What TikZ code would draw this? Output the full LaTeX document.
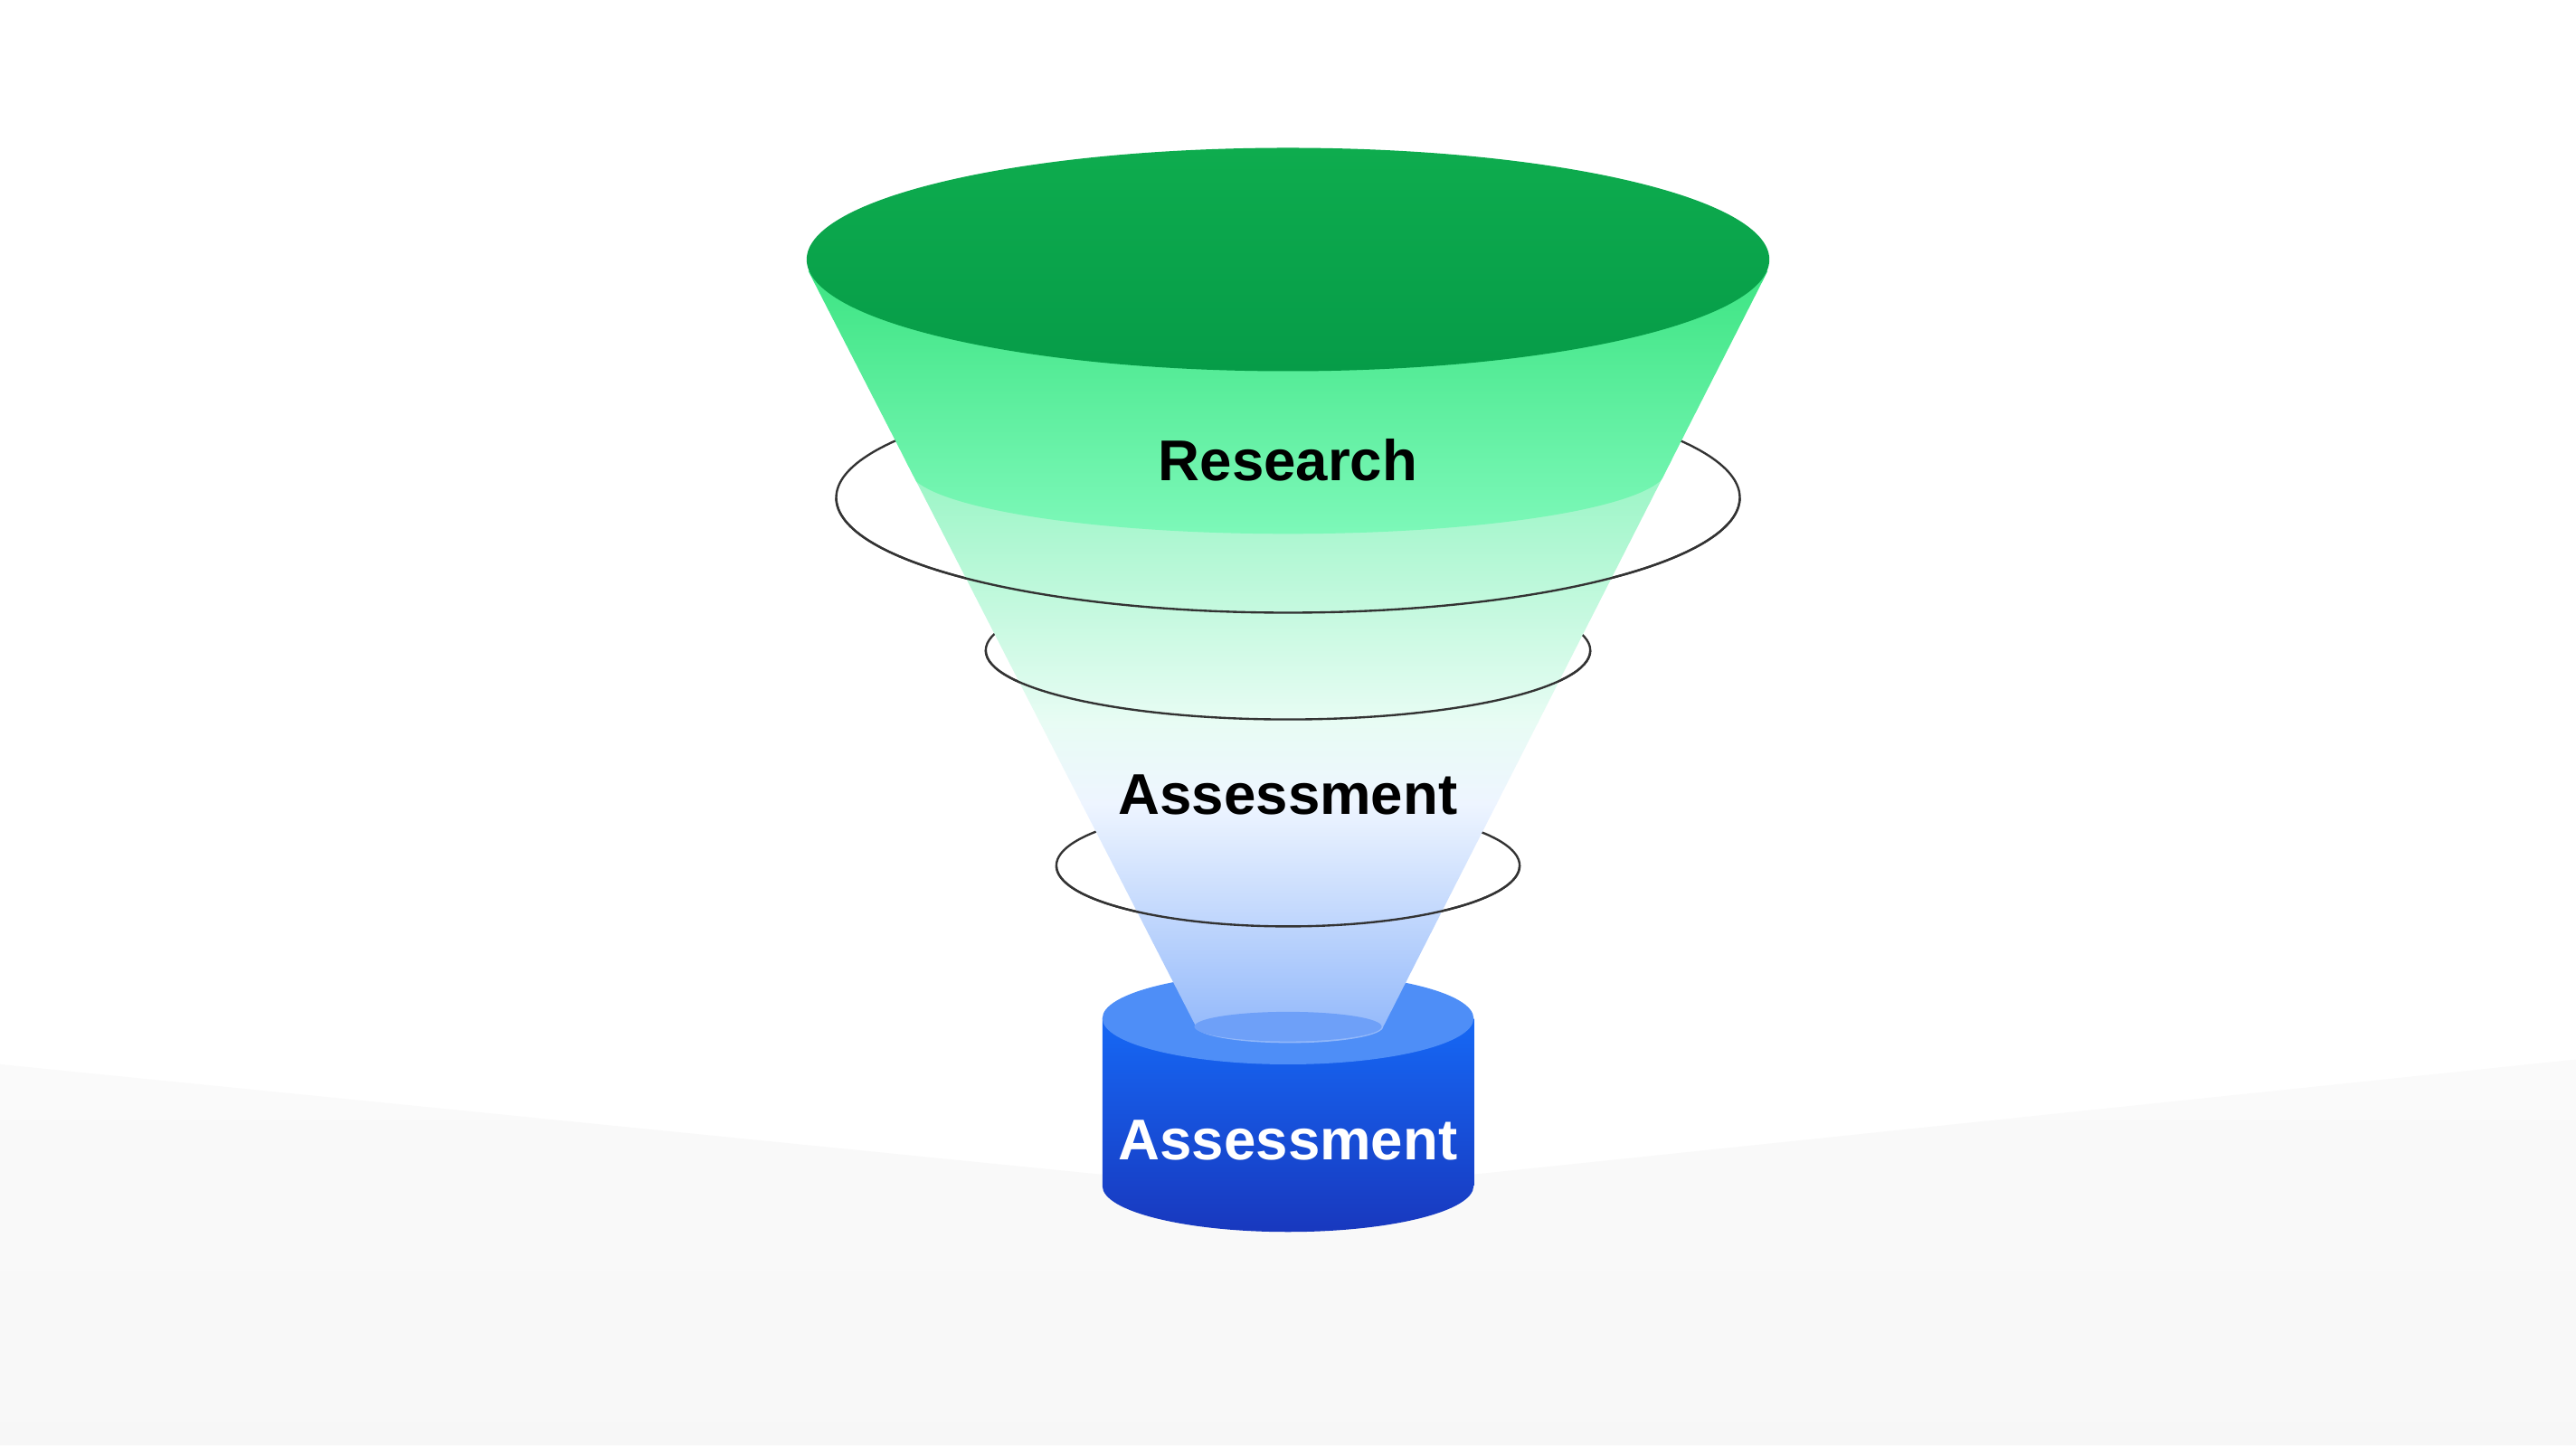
\documentclass[tikz,border=0pt]{standalone}
\usepackage{fontspec}
\setmainfont{Liberation Sans}
\definecolor{cylA}{RGB}{22,104,245}
\definecolor{cylB}{RGB}{24,56,190}
\definecolor{cylT}{RGB}{78,142,247}
\definecolor{mint}{RGB}{150,245,195}
\definecolor{pale}{RGB}{232,252,244}
\definecolor{paleb}{RGB}{238,245,255}
\definecolor{lblue}{RGB}{140,180,250}
\definecolor{grA}{RGB}{60,228,130}
\definecolor{grB}{RGB}{125,248,185}
\definecolor{topA}{RGB}{14,172,78}
\definecolor{topB}{RGB}{6,156,72}
\definecolor{hole}{RGB}{110,160,248}
\begin{document}
\begin{tikzpicture}[x=1pt,y=-1pt,
  ring/.style={draw=black!80,line width=1.3pt},
  lab/.style={font=\fontsize{35}{40}\selectfont\bfseries,inner sep=0pt}]
\useasboundingbox (0,0) rectangle (1568,880);
\fill[white] (0,0) rectangle (1568,880);
% floor
\shade[top color=black!2,bottom color=black!3] (0,648) -- (670,715) -- (897,715) -- (1568,645) -- (1568,880) -- (0,880) -- cycle;
% cylinder
\shade[top color=cylA,bottom color=cylB]
  (671,620) -- (671,722) arc[start angle=180,end angle=0,x radius=113,y radius=28] -- (897,620) -- cycle;
\fill[cylT] (784,620) ellipse[x radius=113,y radius=28];
% rings back
\draw[ring] (784,303) ellipse[x radius=275,y radius=70];
\draw[ring] (784,396) ellipse[x radius=184,y radius=42];
\draw[ring] (784,527) ellipse[x radius=141,y radius=37];
% cone
\begin{scope}
\clip (492,165) -- (728,625) arc[start angle=180,end angle=0,x radius=57,y radius=10] -- (1076,165) -- cycle;
\shade[top color=mint,bottom color=pale] (480,280) rectangle (1090,440);
\shade[top color=pale,bottom color=paleb] (480,439) rectangle (1090,490);
\shade[top color=paleb,bottom color=lblue] (480,489) rectangle (1090,640);
\shade[top color=grA,bottom color=grB]
  (480,160) -- (480,285) -- (553,285) arc[start angle=180,end angle=0,x radius=231,y radius=40] -- (1090,285) -- (1090,160) -- cycle;
\end{scope}
\fill[hole] (784,625) ellipse[x radius=57,y radius=9];
% top ellipse
\shade[top color=topA,bottom color=topB] (784,158) ellipse[x radius=293,y radius=68];
% rings front
\draw[ring] (1059,303) arc[start angle=0,end angle=180,x radius=275,y radius=70];
\draw[ring] (968,396) arc[start angle=0,end angle=180,x radius=184,y radius=42];
\draw[ring] (925,527) arc[start angle=0,end angle=180,x radius=141,y radius=37];
% labels
\node[lab] (t1) at (784,280) {Research};
\node[lab] (t2) at (784,484) {Assessment};
\node[lab,text=white] (t3) at (784,694) {Assessment};
\end{tikzpicture}
\end{document}
